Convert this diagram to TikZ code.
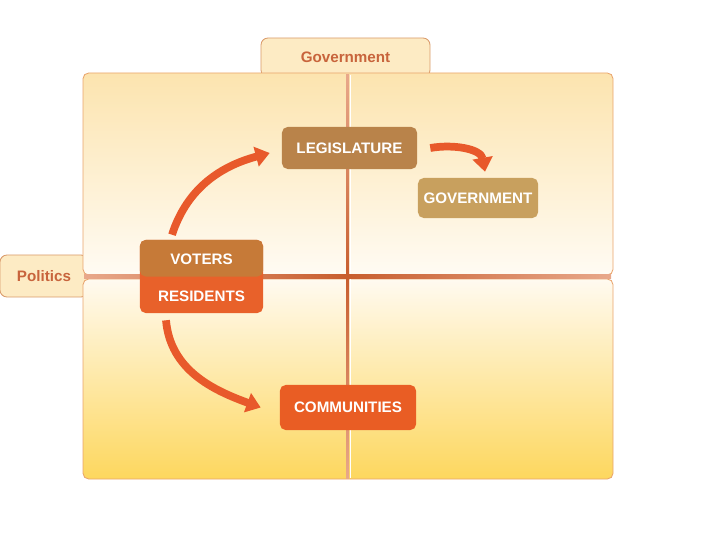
\documentclass[tikz,border=0pt]{standalone}
\usepackage{fontspec}
\setmainfont{Liberation Sans}
\usepackage{xcolor}
\usetikzlibrary{arrows.meta,positioning}

\definecolor{tabfill}{HTML}{FDEBC4}
\definecolor{tabline}{HTML}{D99A6A}
\definecolor{tabtext}{HTML}{C8643C}
\definecolor{panelline}{HTML}{E9A46C}
\definecolor{uppertop}{HTML}{FCE4AF}
\definecolor{upperbot}{HTML}{FFFBF3}
\definecolor{lowertop}{HTML}{FFFAF0}
\definecolor{lowerbot}{HTML}{FDD75E}
\definecolor{axisdark}{HTML}{C85E2E}
\definecolor{axislight}{HTML}{E8A88A}
\definecolor{legisbrown}{HTML}{B9834A}
\definecolor{govtan}{HTML}{C8A05E}
\definecolor{votebrown}{HTML}{C67A38}
\definecolor{resorange}{HTML}{E8612A}
\definecolor{commorange}{HTML}{E95D24}
\definecolor{arroworange}{HTML}{E8592B}

\begin{document}
\begin{tikzpicture}[
  x=0.025cm, y=0.025cm,
  font=\fontsize{10.8}{12}\selectfont\bfseries,
  tab/.style={draw=tabline, fill=tabfill, line width=0.6pt, rounded corners=5pt, text=tabtext},
  panel/.style={draw=panelline, line width=0.6pt, rounded corners=4pt},
  box/.style={rounded corners=4pt, text=white, inner sep=0pt},
  boxtext/.style={text=white, inner sep=0pt},
  arrow/.style={-{Triangle[length=10pt,width=14pt]}, line width=5.5pt, draw=arroworange}
]
\useasboundingbox (0,0) rectangle (720,540);

% tabs behind the panels
\node[tab, minimum width=4.225cm, minimum height=0.975cm] (govtab) at (345.5,482.5) {Government};
\node[tab, minimum width=2.2cm, minimum height=1.05cm] (poltab) at (44,264) {Politics};

% the two panels
\path[panel, top color=uppertop, bottom color=upperbot] (83,467) rectangle (613,265);
\path[panel, top color=lowertop, bottom color=lowerbot] (83,261) rectangle (613,61);

% axes
\shade[top color=axislight, bottom color=axislight, middle color=axisdark] (346,465) rectangle (349,62);
\draw[white, line width=0.6pt] (350.2,62) -- (350.2,465);
\shade[left color=axislight, right color=axislight, middle color=axisdark] (84,262) rectangle (611,265.5);

% boxes
\node[box, fill=legisbrown, minimum width=3.375cm, minimum height=1.05cm] (legis) at (349.5,392) {LEGISLATURE};
\node[box, fill=govtan, minimum width=3.0cm, minimum height=1.0cm] (govt) at (478,342) {GOVERNMENT};
\node[box, fill=resorange, minimum width=3.075cm, minimum height=1.825cm,
  path picture={\fill[votebrown] (path picture bounding box.north west) rectangle (path picture bounding box.east);}] (vr) at (201.5,263.5) {};
\node[boxtext] (voters) at (201.5,281) {VOTERS};
\node[boxtext] (residents) at (201.5,244) {RESIDENTS};
\node[box, fill=commorange, minimum width=3.4cm, minimum height=1.125cm] (comm) at (348,132.5) {COMMUNITIES};

% flows
\draw[arrow] ([shift={(-29.5,5)}]vr.north) to[out=72, in=195] ([shift={(-12,-5)}]legis.west);
\draw[arrow] ([shift={(-35.5,-7)}]vr.south) to[out=-85, in=160] ([shift={(-19,0)}]comm.west);
\draw[arrow] ([shift={(13,0)}]legis.east) to[out=10, in=100] ([shift={(7,6)}]govt.north);
\end{tikzpicture}
\end{document}
